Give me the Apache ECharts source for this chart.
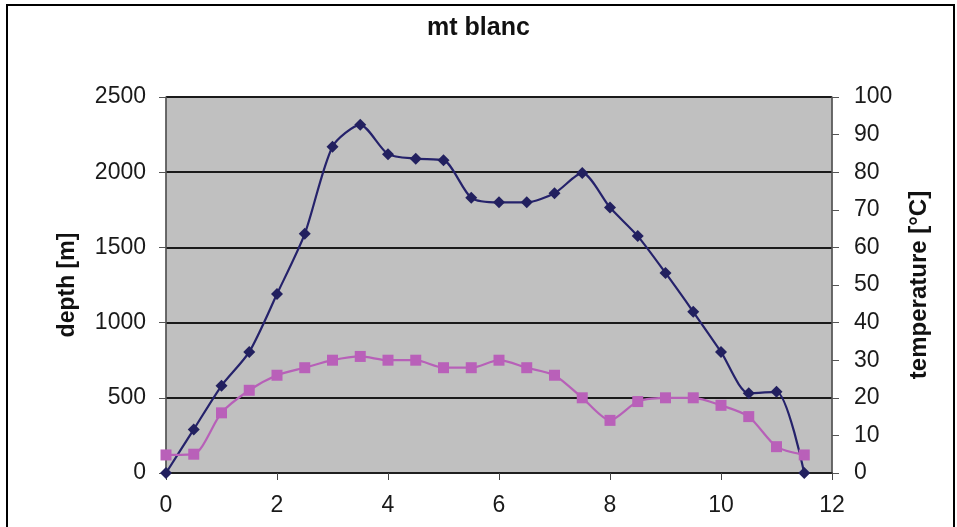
<!DOCTYPE html>
<html><head><meta charset="utf-8">
<script src="https://cdn.jsdelivr.net/npm/echarts@6/dist/echarts.min.js"></script>
<style>html,body{margin:0;padding:0;background:#fff}#c{width:957px;height:527px}</style>
</head><body><div id="c"></div>
<script>
var xValues = [0,0.5,1,1.5,2,2.5,3,3.5,4,4.5,5,5.5,6,6.5,7,7.5,8,8.5,9,9.5,10,10.5,11,11.5];
var depth = [0,290,580,805,1190,1590,2170,2315,2120,2090,2080,1830,1800,1800,1860,1995,1765,1575,1330,1072,805,530,540,0];
var temperature = [4.8,5,16,22,26,28,30,31,30,30,28,28,30,28,26,20,14,19,20,20,18,15,7,4.8];
var xTicks = [0,2,4,6,8,10,12];

function pairs(xs, ys){ return xs.map(function(x,i){ return [x, ys[i]]; }); }
function plain(v){ return String(v); }

var font = 'Liberation Sans, Arial, sans-serif';
var chart = echarts.init(document.getElementById('c'));
chart.setOption({
  animation: false,
  backgroundColor: '#ffffff',
  title: { text: 'mt blanc', left: 'center', top: 11,
    textStyle: { fontFamily: font, fontSize: 25, fontWeight: 'bold', color: '#111' } },
  graphic: [{ type: 'rect', shape: { x: 7, y: 5, width: 947, height: 540 },
    style: { fill: 'none', stroke: '#000', lineWidth: 2 }, silent: true }],
  grid: { left: 166, right: 125, top: 97, bottom: 54, show: true,
    backgroundColor: '#c0c0c0', borderColor: '#6a6a6a', borderWidth: 1 },
  xAxis: {
    type: 'value', min: xTicks[0], max: xTicks[xTicks.length-1], interval: 2,
    axisLine: { show: true, lineStyle: { color: '#222', width: 1.5 } },
    axisTick: { show: true, length: 7, lineStyle: { color: '#444' } },
    axisLabel: { fontFamily: font, fontSize: 23, color: '#1a1a1a', margin: 21, formatter: plain },
    splitLine: { show: false }
  },
  yAxis: [{
    type: 'value', min: 0, max: 2500, interval: 500, position: 'left',
    name: 'depth [m]', nameLocation: 'middle', nameGap: 87, nameRotate: 90,
    nameTextStyle: { fontFamily: font, fontSize: 23, fontWeight: 'bold', color: '#111' },
    axisLine: { show: true, lineStyle: { color: '#555', width: 1.5 } },
    axisTick: { show: true, length: 7, lineStyle: { color: '#555' } },
    axisLabel: { fontFamily: font, fontSize: 23, color: '#1a1a1a', margin: 20, formatter: plain },
    splitLine: { show: true, lineStyle: { color: '#1a1a1a', width: 2 } }
  }, {
    type: 'value', min: 0, max: 100, interval: 10, position: 'right',
    name: 'temperature [°C]', nameLocation: 'middle', nameGap: 75, nameRotate: 90,
    nameTextStyle: { fontFamily: font, fontSize: 24, fontWeight: 'bold', color: '#111' },
    axisLine: { show: true, lineStyle: { color: '#555', width: 1.5 } },
    axisTick: { show: true, length: 7, lineStyle: { color: '#555' } },
    axisLabel: { fontFamily: font, fontSize: 23, color: '#1a1a1a', margin: 22, formatter: plain },
    splitLine: { show: false }
  }],
  series: [{
    type: 'line', yAxisIndex: 0, data: pairs(xValues, depth), smooth: 0.25,
    symbol: 'diamond', symbolSize: 12,
    lineStyle: { color: '#25226b', width: 2.2 }, itemStyle: { color: '#22205f' }
  }, {
    type: 'line', yAxisIndex: 1, data: pairs(xValues, temperature), smooth: 0.25,
    symbol: 'rect', symbolSize: 11,
    lineStyle: { color: '#b760b8', width: 2.2 }, itemStyle: { color: '#b960b9' }
  }]
});
</script></body></html>
